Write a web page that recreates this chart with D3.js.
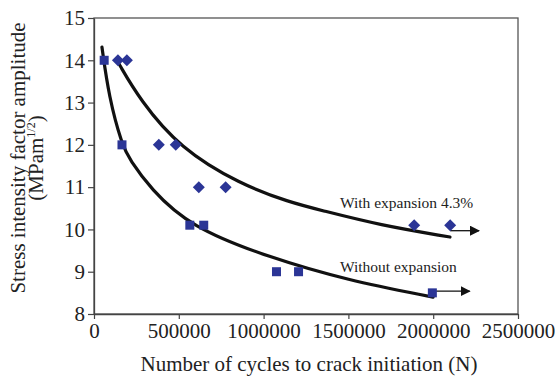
<!DOCTYPE html>
<html>
<head>
<meta charset="utf-8">
<script src="https://cdn.jsdelivr.net/npm/d3@7"></script>
<style>
  html, body { margin: 0; padding: 0; background: #fff; }
  svg { display: block; font-family: "Liberation Serif", "DejaVu Serif", serif; }
</style>
</head>
<body>
<div id="chart"></div>
<script>
// measured points
const withoutN = [60000, 165000, 565000, 647000, 1076000, 1206000, 1995000];
const withoutS = [14, 12, 10.1, 10.1, 9, 9, 8.5];
const withN = [141000, 194000, 382000, 482000, 618000, 776000, 1888000, 2100000];
const withS = [14, 14, 12, 12, 11, 11, 10.1, 10.1];

// trend curves
const fitWithoutN = [47000, 88000, 165000, 212000, 330000, 566000, 1038000, 1492000, 1999000];
const fitWithoutS = [14.31, 13.13, 12.0, 11.64, 10.98, 10.06, 9.33, 8.80, 8.40];
const fitWithN = [141000, 271000, 507000, 861000, 1156000, 1333000, 1686000, 2099000];
const fitWithS = [13.96, 13.06, 11.92, 11.07, 10.64, 10.46, 10.10, 9.82];

// arrows [fromN, toN, S]
const arrowWith = [2100000, 2270000, 9.97];
const arrowWithout = [2000000, 2215000, 8.54];

const xTicks = [0, 500000, 1000000, 1500000, 2000000, 2500000];
const yTicks = [8, 9, 10, 11, 12, 13, 14, 15];
const labels = [
  { text: 'With expansion 4.3%', n: 1450000, s: 10.51 },
  { text: 'Without expansion', n: 1450000, s: 8.99 }
];

const W = 555, H = 377;
const margin = { top: 18, right: 37, bottom: 63, left: 94 };
const markColor = '#2b3596';
const fs = 21;

const svg = d3.select('#chart').append('svg')
  .attr('width', W).attr('height', H);

const x = d3.scaleLinear().domain([0, 2500000]).range([margin.left, W - margin.right]);
const y = d3.scaleLinear().domain([8, 15]).range([H - margin.bottom, margin.top]);

svg.append('defs').append('marker')
  .attr('id', 'arrow')
  .attr('viewBox', '0 0 10 10')
  .attr('refX', 9).attr('refY', 5)
  .attr('markerWidth', 10).attr('markerHeight', 10)
  .attr('markerUnits', 'userSpaceOnUse')
  .attr('orient', 'auto')
  .append('path')
  .attr('d', 'M0,0L10,5L0,10Z')
  .attr('fill', '#111');

// frame
svg.append('rect')
  .attr('x', x(0)).attr('y', y(15))
  .attr('width', x(2500000) - x(0)).attr('height', y(8) - y(15))
  .attr('fill', 'none').attr('stroke', '#555').attr('stroke-width', 1.3);

const xAxis = svg.append('g')
  .attr('transform', `translate(0,${y(8)})`)
  .call(d3.axisBottom(x).tickValues(xTicks).tickSize(5).tickSizeOuter(0).tickFormat(d3.format('d')));
const yAxis = svg.append('g')
  .attr('transform', `translate(${x(0)},0)`)
  .call(d3.axisLeft(y).tickValues(yTicks).tickSize(6).tickSizeOuter(0).tickFormat(d3.format('d')));

[xAxis, yAxis].forEach(g => {
  g.select('.domain').attr('stroke', '#444').attr('stroke-width', 1.3);
  g.selectAll('line').attr('stroke', '#444').attr('stroke-width', 1.2);
  g.selectAll('text').attr('font-family', '"Liberation Serif", serif')
    .attr('font-size', fs).attr('fill', '#222');
});
xAxis.selectAll('text').attr('dy', '0.9em').attr('y', 5);
yAxis.selectAll('text').attr('x', -9);

// axis titles
svg.append('text')
  .attr('x', 309).attr('y', 371)
  .attr('text-anchor', 'middle')
  .attr('font-size', fs).attr('fill', '#222')
  .text('Number of cycles to crack initiation (N)');

svg.append('text')
  .attr('transform', 'translate(25,158) rotate(-90)')
  .attr('text-anchor', 'middle')
  .attr('font-size', fs).attr('fill', '#222')
  .text('Stress intensity factor amplitude');

const t2 = svg.append('text')
  .attr('font-size', fs).attr('fill', '#222');
t2.append('tspan').text('(MPam');
t2.append('tspan').attr('font-size', 12).attr('dy', -8).text('1/2');
t2.append('tspan').attr('dy', 8).text(')');
const len2 = t2.node().getComputedTextLength();
t2.attr('transform', `translate(43,${158 + len2 / 2}) rotate(-90)`);

// trend curves
const line = d3.line().x(d => x(d[0])).y(d => y(d[1])).curve(d3.curveBasis);
[[fitWithoutN, fitWithoutS], [fitWithN, fitWithS]].forEach(([ns, ss]) => {
  svg.append('path')
    .datum(ns.map((n, i) => [n, ss[i]]))
    .attr('fill', 'none').attr('stroke', '#111')
    .attr('stroke-width', 3.2).attr('stroke-linecap', 'round')
    .attr('d', line);
});

// arrows
[arrowWith, arrowWithout].forEach(a => {
  svg.append('line')
    .attr('x1', x(a[0])).attr('x2', x(a[1]))
    .attr('y1', y(a[2])).attr('y2', y(a[2]))
    .attr('stroke', '#111').attr('stroke-width', 1.3)
    .attr('marker-end', 'url(#arrow)');
});

// markers
svg.selectAll('.sq')
  .data(withoutN.map((n, i) => [n, withoutS[i]]))
  .enter().append('rect')
  .attr('class', 'sq')
  .attr('x', d => x(d[0]) - 4.5).attr('y', d => y(d[1]) - 4.5)
  .attr('width', 9).attr('height', 9)
  .attr('fill', markColor);

svg.selectAll('.dm')
  .data(withN.map((n, i) => [n, withS[i]]))
  .enter().append('path')
  .attr('class', 'dm')
  .attr('d', d => {
    const cx = x(d[0]), cy = y(d[1]), r = 6;
    return `M${cx},${cy - r}L${cx + r},${cy}L${cx},${cy + r}L${cx - r},${cy}Z`;
  })
  .attr('fill', markColor);

// curve labels
svg.selectAll('.lbl')
  .data(labels)
  .enter().append('text')
  .attr('class', 'lbl')
  .attr('x', d => x(d.n)).attr('y', d => y(d.s))
  .attr('font-size', 15.5).attr('fill', '#222')
  .text(d => d.text);
</script>
</body>
</html>
